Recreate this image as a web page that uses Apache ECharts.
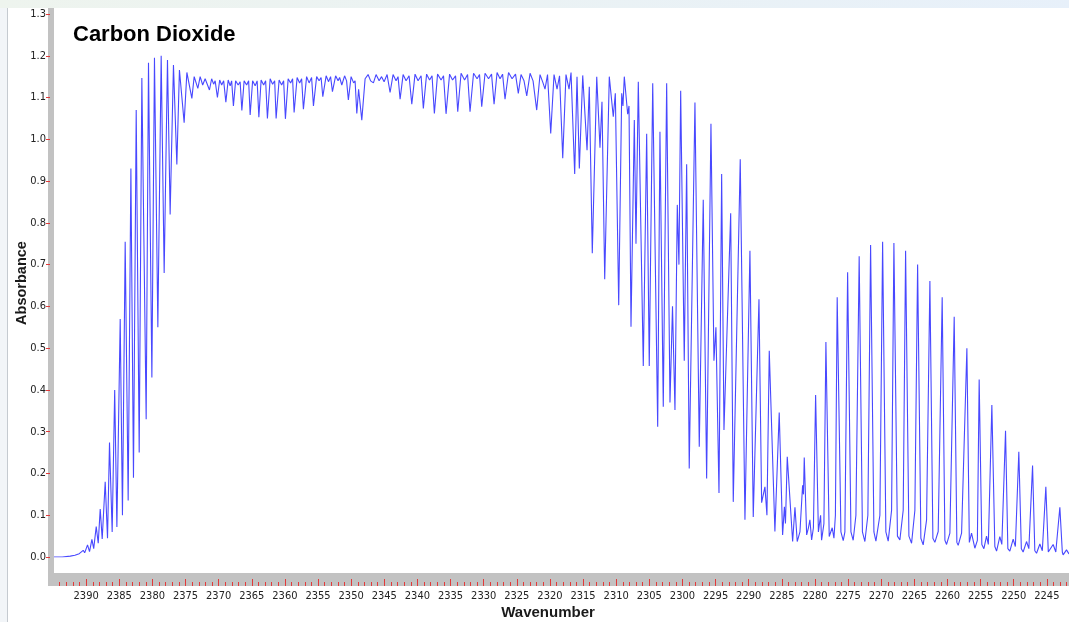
<!DOCTYPE html>
<html>
<head>
<meta charset="utf-8">
<title>Carbon Dioxide</title>
<script src="https://cdn.jsdelivr.net/npm/echarts@6/dist/echarts.min.js"></script>
<style>
  html, body { margin: 0; padding: 0; background: #ffffff; overflow: hidden; }
  #chart { width: 1083px; height: 622px; }
</style>
</head>
<body>
<div id="chart"></div>
<script>
// Spectrum readings as [wavenumber (cm-1), absorbance], high to low wavenumber.

// Baseline and steep R-branch edge
const rBranchEdge = [
  [2395.0, 0.0], [2393.6, 0.0], [2392.4, 0.002], [2391.7, 0.004], [2391.05, 0.008], [2390.83, 0.005],
  [2390.45, 0.016], [2390.23, 0.01], [2389.80, 0.029], [2389.50, 0.013], [2389.14, 0.042], [2388.87, 0.02],
  [2388.49, 0.073], [2388.19, 0.033], [2387.89, 0.115], [2387.59, 0.043], [2387.14, 0.18], [2386.79, 0.045],
  [2386.49, 0.274], [2386.09, 0.06], [2385.71, 0.40], [2385.38, 0.072], [2384.88, 0.57], [2384.54, 0.10],
  [2384.13, 0.755], [2383.68, 0.135], [2383.27, 0.93], [2382.88, 0.19], [2382.47, 1.07], [2382.02, 0.25],
  [2381.62, 1.147], [2380.97, 0.33], [2380.62, 1.183], [2380.11, 0.43], [2379.72, 1.195], [2379.21, 0.55],
  [2378.71, 1.20], [2378.26, 0.68], [2377.76, 1.19], [2377.36, 0.82], [2376.86, 1.178], [2376.35, 0.94],
  [2375.96, 1.166], [2375.25, 1.04], [2374.84, 1.16], [2374.09, 1.098]
];

// Saturated band centre with its shallow line dips
const bandCentre = [
  [2373.74, 1.15], [2373.19, 1.122], [2372.84, 1.15], [2372.46, 1.13], [2372.09, 1.145], [2371.44, 1.118],
  [2371.11, 1.145], [2370.81, 1.132], [2370.58, 1.14], [2370.24, 1.10], [2369.90, 1.142], [2369.60, 1.13],
  [2369.30, 1.14], [2368.97, 1.089], [2368.62, 1.142], [2368.32, 1.128], [2368.10, 1.14], [2367.83, 1.08],
  [2367.50, 1.14], [2367.12, 1.13], [2366.82, 1.138], [2366.56, 1.069], [2366.22, 1.14], [2365.84, 1.13],
  [2365.54, 1.14], [2365.31, 1.058], [2364.94, 1.14], [2364.56, 1.128], [2364.26, 1.14], [2364.00, 1.053],
  [2363.66, 1.142], [2363.28, 1.13], [2362.98, 1.14], [2362.71, 1.05], [2362.30, 1.145], [2361.93, 1.132],
  [2361.62, 1.14], [2361.40, 1.05], [2360.95, 1.142], [2360.57, 1.13], [2360.27, 1.14], [2360.00, 1.049],
  [2359.59, 1.145], [2359.22, 1.135], [2358.92, 1.145], [2358.69, 1.064], [2358.24, 1.148], [2357.86, 1.135],
  [2357.56, 1.145], [2357.29, 1.072], [2356.81, 1.15], [2356.43, 1.135], [2356.06, 1.148], [2355.78, 1.08],
  [2355.30, 1.15], [2354.93, 1.14], [2354.63, 1.148], [2354.37, 1.102], [2353.87, 1.152], [2353.50, 1.138],
  [2353.20, 1.15], [2352.92, 1.114], [2352.44, 1.152], [2352.07, 1.14], [2351.84, 1.148], [2351.51, 1.13],
  [2351.09, 1.152], [2350.79, 1.14], [2350.52, 1.094], [2350.11, 1.15], [2349.73, 1.135], [2349.51, 1.14],
  [2349.25, 1.062], [2348.98, 1.12], [2348.50, 1.046], [2348.00, 1.145], [2347.55, 1.155], [2347.17, 1.14],
  [2346.75, 1.135], [2346.35, 1.155], [2345.89, 1.14], [2345.52, 1.15], [2345.14, 1.138], [2344.69, 1.155],
  [2344.24, 1.112], [2343.79, 1.155], [2343.34, 1.14], [2343.04, 1.15], [2342.73, 1.096], [2342.28, 1.155],
  [2341.83, 1.14], [2341.38, 1.152], [2340.97, 1.084], [2340.48, 1.156], [2340.02, 1.14], [2339.57, 1.152],
  [2339.23, 1.074], [2338.74, 1.156], [2338.29, 1.142], [2337.92, 1.152], [2337.57, 1.062], [2337.09, 1.156],
  [2336.56, 1.142], [2336.19, 1.152], [2335.81, 1.061], [2335.28, 1.156], [2334.83, 1.142], [2334.38, 1.152],
  [2334.05, 1.066], [2333.55, 1.158], [2333.02, 1.142], [2332.57, 1.155], [2332.20, 1.066], [2331.67, 1.158],
  [2331.14, 1.145], [2330.77, 1.155], [2330.44, 1.078], [2329.94, 1.158], [2329.41, 1.145], [2328.96, 1.156],
  [2328.58, 1.084], [2328.13, 1.16], [2327.68, 1.145], [2327.30, 1.156], [2326.93, 1.096], [2326.40, 1.16],
  [2325.87, 1.145], [2325.35, 1.156], [2324.93, 1.11], [2324.52, 1.155], [2324.07, 1.14], [2323.66, 1.104],
  [2323.16, 1.158], [2322.71, 1.14], [2322.16, 1.07], [2321.66, 1.155], [2321.21, 1.135], [2320.91, 1.12],
  [2320.53, 1.155], [2320.05, 1.014]
];

// P-branch: lines opening up and falling away
const pBranch = [
  [2319.55, 1.155], [2319.10, 1.12], [2318.72, 1.152], [2318.24, 0.955], [2317.75, 1.155], [2317.29, 1.12],
  [2316.99, 1.16], [2316.44, 0.917], [2316.09, 1.15], [2315.74, 0.93], [2315.23, 1.153], [2314.58, 0.974],
  [2314.24, 1.126], [2313.79, 0.727], [2313.12, 1.15], [2312.63, 0.98], [2312.33, 1.09], [2311.92, 0.665],
  [2311.23, 1.15], [2310.63, 1.054], [2310.32, 1.11], [2309.81, 0.603], [2309.36, 1.11], [2309.17, 1.08],
  [2308.97, 1.15], [2308.46, 1.06], [2308.26, 1.08], [2307.96, 0.551], [2307.46, 1.046], [2307.21, 0.75],
  [2306.86, 1.138], [2306.11, 0.457], [2305.60, 1.013], [2305.21, 0.457], [2304.69, 1.134], [2303.94, 0.312],
  [2303.60, 1.018], [2303.10, 0.36], [2302.59, 1.134], [2302.09, 0.37], [2301.71, 0.6], [2301.34, 0.352],
  [2300.99, 0.843], [2300.74, 0.7], [2300.48, 1.116], [2299.94, 0.47], [2299.58, 0.94], [2299.19, 0.212],
  [2298.33, 1.088], [2297.68, 0.264], [2297.08, 0.855], [2296.57, 0.188], [2295.92, 1.037], [2295.47, 0.47],
  [2295.17, 0.55], [2294.71, 0.153], [2294.31, 0.917], [2293.96, 0.304], [2292.95, 0.823], [2292.56, 0.132],
  [2291.51, 0.952], [2290.80, 0.089], [2290.05, 0.733], [2289.55, 0.096], [2288.69, 0.617], [2288.29, 0.13],
  [2287.79, 0.168], [2287.49, 0.1], [2287.14, 0.494], [2286.29, 0.061], [2285.64, 0.346], [2285.13, 0.053],
  [2284.86, 0.12], [2284.70, 0.08], [2284.43, 0.24], [2283.62, 0.037], [2283.27, 0.119], [2282.93, 0.037]
];

// Hot band lines and the weak P-branch tail
const hotBandTail = [
  [2282.52, 0.06], [2282.12, 0.172], [2281.99, 0.15], [2281.87, 0.238], [2281.51, 0.053], [2281.24, 0.07],
  [2281.02, 0.089], [2280.76, 0.041], [2280.49, 0.07], [2280.16, 0.388], [2279.74, 0.06], [2279.41, 0.10],
  [2279.26, 0.04], [2278.91, 0.08], [2278.61, 0.515], [2278.11, 0.049], [2277.66, 0.07], [2277.40, 0.045],
  [2277.18, 0.1], [2276.91, 0.622], [2276.35, 0.06], [2276.00, 0.039], [2275.75, 0.06], [2275.34, 0.682],
  [2274.84, 0.06], [2274.50, 0.04], [2274.09, 0.1], [2273.60, 0.72], [2273.11, 0.06], [2272.74, 0.037],
  [2272.29, 0.1], [2271.88, 0.747], [2271.38, 0.06], [2271.08, 0.038], [2270.48, 0.1], [2270.07, 0.755],
  [2269.58, 0.06], [2269.23, 0.038], [2268.72, 0.112], [2268.37, 0.752], [2267.84, 0.05], [2267.47, 0.041],
  [2266.97, 0.112], [2266.61, 0.733], [2266.11, 0.05], [2265.71, 0.033], [2265.21, 0.112], [2264.80, 0.70],
  [2264.31, 0.045], [2263.96, 0.029], [2263.45, 0.089], [2262.95, 0.661], [2262.50, 0.045], [2262.20, 0.035],
  [2261.70, 0.061], [2261.10, 0.622], [2260.69, 0.04], [2260.44, 0.03], [2259.94, 0.057], [2259.29, 0.575],
  [2258.89, 0.035], [2258.69, 0.028], [2258.18, 0.057], [2257.38, 0.50], [2257.01, 0.035], [2256.68, 0.057],
  [2256.18, 0.021], [2255.80, 0.04], [2255.53, 0.425], [2255.13, 0.03], [2254.82, 0.02], [2254.42, 0.05],
  [2254.15, 0.03], [2253.62, 0.364], [2253.17, 0.025], [2252.91, 0.014], [2252.42, 0.049], [2252.12, 0.03],
  [2251.56, 0.302], [2251.21, 0.02], [2250.91, 0.014], [2250.41, 0.043], [2250.08, 0.025], [2249.56, 0.252],
  [2249.18, 0.02], [2248.91, 0.012], [2248.40, 0.037], [2248.05, 0.02], [2247.49, 0.219], [2247.15, 0.015],
  [2246.89, 0.009], [2246.39, 0.031], [2246.02, 0.015], [2245.49, 0.168], [2245.12, 0.012], [2244.89, 0.008],
  [2244.39, 0.03], [2243.99, 0.012], [2243.38, 0.119], [2243.01, 0.012], [2242.89, 0.005], [2242.38, 0.017],
  [2242.03, 0.008], [2241.5, 0.01]
];

// Axis extents and tick steps
const xRange = { min: 2240, max: 2395, step: 5, minorStep: 1 };
const yRange = { min: 0, max: 1.3, step: 0.1 };

const spectrum = [].concat(rBranchEdge, bandCentre, pBranch, hotBandTail);

const narrowFont = "'Liberation Sans Narrow', 'Arial Narrow', 'DejaVu Sans Condensed', sans-serif";
const boldFont = "'Liberation Sans', Arial, Helvetica, sans-serif";
const tickRed = '#e23a3a';
const barGrey = '#c2c2c2';
const canvasW = 1083;

const chart = echarts.init(document.getElementById('chart'), null, { renderer: 'canvas', width: canvasW, height: 622 });

chart.setOption({
  animation: false,
  backgroundColor: '#ffffff',
  title: {
    text: 'Carbon Dioxide',
    left: 73,
    top: 24,
    padding: 0,
    textStyle: { fontFamily: boldFont, fontSize: 22, fontWeight: 'bold', color: '#000000' }
  },
  grid: [
    // plotting area
    { left: 53, right: 0.7, top: 14, bottom: 65, containLabel: false },
    // strip along the bottom carrying the wavenumber scale
    { left: 53, right: 0.7, top: 573, bottom: 36, containLabel: false }
  ],
  xAxis: [
    {
      gridIndex: 0,
      type: 'value',
      inverse: true,
      min: xRange.min,
      max: xRange.max,
      show: false
    },
    {
      // labelled ticks every 5 cm-1
      gridIndex: 1,
      type: 'value',
      inverse: true,
      position: 'bottom',
      min: xRange.min,
      max: xRange.max,
      interval: xRange.step,
      z: 5,
      axisLine: { show: false, onZero: false },
      axisTick: { show: true, inside: true, length: 7, lineStyle: { color: tickRed, width: 1 } },
      splitLine: { show: false },
      axisLabel: {
        margin: 5,
        fontFamily: narrowFont,
        fontSize: 11,
        color: '#222222',
        formatter: function (v) { return (v > xRange.min && v < xRange.max) ? String(v) : ''; }
      }
    },
    {
      // short ticks every 1 cm-1
      gridIndex: 1,
      type: 'value',
      inverse: true,
      position: 'bottom',
      min: xRange.min,
      max: xRange.max,
      interval: xRange.minorStep,
      z: 4,
      axisLine: { show: false, onZero: false },
      axisTick: { show: true, inside: true, length: 4, lineStyle: { color: tickRed, width: 1 } },
      splitLine: { show: false },
      axisLabel: { show: false }
    }
  ],
  yAxis: [
    {
      gridIndex: 0,
      type: 'value',
      min: yRange.min,
      max: yRange.max,
      interval: yRange.step,
      offset: 3,
      z: 8,
      axisLine: { show: false },
      axisTick: { show: true, inside: false, length: 4, lineStyle: { color: tickRed, width: 1 } },
      splitLine: { show: false },
      axisLabel: {
        margin: 4,
        fontFamily: narrowFont,
        fontSize: 11,
        color: '#222222',
        formatter: function (v) { return v.toFixed(1); }
      }
    },
    { gridIndex: 1, type: 'value', show: false }
  ],
  graphic: [
    {
      type: 'rect', z: 1, silent: true,
      shape: { x: 0, y: 0, width: canvasW, height: 8 },
      style: {
        fill: new echarts.graphic.LinearGradient(0, 0, 1, 0, [
          { offset: 0, color: '#eef4ee' },
          { offset: 1, color: '#e7f0fa' }
        ])
      }
    },
    { type: 'rect', z: 1, silent: true, shape: { x: 0, y: 8, width: 7, height: 614 }, style: { fill: '#f2f5f8' } },
    { type: 'line', z: 1, silent: true, shape: { x1: 7.5, y1: 8, x2: 7.5, y2: 622 }, style: { stroke: '#c5cad0', lineWidth: 1 } },
    { type: 'rect', z: 2, silent: true, shape: { x: 48, y: 573, width: canvasW - 48, height: 13 }, style: { fill: barGrey } },
    { type: 'rect', z: 6, silent: true, shape: { x: 48, y: 8, width: 6, height: 578 }, style: { fill: barGrey } },
    {
      type: 'text', z: 10, silent: true, x: 548, y: 613,
      style: { text: 'Wavenumber', align: 'center', verticalAlign: 'middle', fill: '#1a1a1a',
               font: 'bold 15px ' + boldFont }
    },
    {
      type: 'text', z: 10, silent: true, x: 22, y: 283, rotation: Math.PI / 2,
      style: { text: 'Absorbance', align: 'center', verticalAlign: 'middle', fill: '#1a1a1a',
               font: 'bold 14.5px ' + boldFont }
    }
  ],
  series: [{
    type: 'line',
    xAxisIndex: 0,
    yAxisIndex: 0,
    data: spectrum,
    showSymbol: false,
    symbol: 'none',
    clip: true,
    silent: true,
    z: 3,
    lineStyle: { color: '#4848ff', width: 1.1 }
  }]
});
</script>
</body>
</html>
